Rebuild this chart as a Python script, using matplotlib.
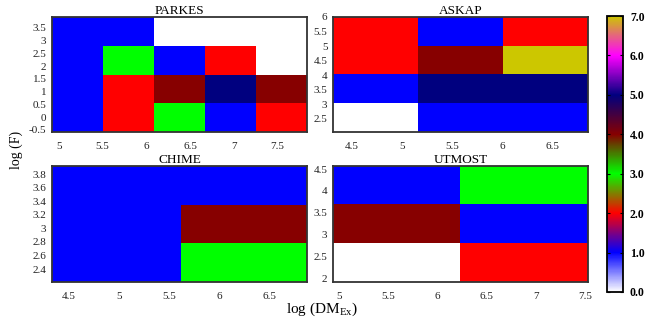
import numpy as np
import matplotlib
matplotlib.use("Agg")
import matplotlib.pyplot as plt
from matplotlib.colors import LinearSegmentedColormap

plt.rcParams['font.family'] = ['Liberation Serif', 'DejaVu Serif']

# ---- data (bin edges and cell values, rows from bottom) ----
parkes_x = [4.92, 5.50, 6.09, 6.67, 7.26, 7.84]
parkes_y = [-0.58, 0.54, 1.66, 2.79, 3.92]
parkes_v = [[1, 2, 3, 1, 2],
            [1, 2, 4, 5, 4],
            [1, 3, 1, 2, 0],
            [1, 1, 0, 0, 0]]

askap_x = [4.31, 5.16, 6.01, 6.86]
askap_y = [2.05, 3.04, 4.03, 5.02, 6.0]
askap_v = [[0, 1, 1],
           [1, 5, 5],
           [2, 4, 7],
           [2, 1, 2]]

chime_x = [4.33, 5.61, 6.87]
chime_y = [2.21, 2.78, 3.35, 3.92]
chime_v = [[1, 3],
           [1, 4],
           [1, 1]]

utmost_x = [4.94, 6.23, 7.53]
utmost_y = [1.91, 2.80, 3.69, 4.57]
utmost_v = [[0, 2],
            [4, 1],
            [1, 3]]

parkes_xt = [5, 5.5, 6, 6.5, 7, 7.5]
parkes_yt = [-0.5, 0, 0.5, 1, 1.5, 2, 2.5, 3, 3.5]
askap_xt = [4.5, 5, 5.5, 6, 6.5]
askap_yt = [2.5, 3, 3.5, 4, 4.5, 5, 5.5, 6]
chime_xt = [4.5, 5, 5.5, 6, 6.5]
chime_yt = [2.4, 2.6, 2.8, 3, 3.2, 3.4, 3.6, 3.8]
utmost_xt = [5, 5.5, 6, 6.5, 7, 7.5]
utmost_yt = [2, 2.5, 3, 3.5, 4, 4.5]

cbar_ticks = [0, 1, 2, 3, 4, 5, 6, 7]

# ---- colormap ----
nodes = [(0/7, (1, 1, 1)), (1/7, (0, 0, 1)), (2/7, (1, 0, 0)), (3/7, (0, 1, 0)),
         (4/7, (0.53, 0, 0)), (5/7, (0, 0, 0.5)), (6/7, (1, 0, 1)), (7/7, (0.8, 0.78, 0))]
cmap = LinearSegmentedColormap.from_list('gp', nodes, N=512)

W, H = 664, 323
fig = plt.figure(figsize=(W/100, H/100), dpi=100)

def ax_at(l, t, r, b):
    return fig.add_axes([l/W, 1 - b/H, (r-l)/W, (b-t)/H])

panels = [
    ("PARKES", (52, 17, 307, 132), parkes_x, parkes_y, parkes_v, parkes_xt, parkes_yt),
    ("ASKAP", (333, 17, 588, 132), askap_x, askap_y, askap_v, askap_xt, askap_yt),
    ("CHIME", (52, 166, 307, 282), chime_x, chime_y, chime_v, chime_xt, chime_yt),
    ("UTMOST", (333, 166, 588, 282), utmost_x, utmost_y, utmost_v, utmost_xt, utmost_yt),
]

mesh = None
for title, box, xe, ye, v, xt, yt in panels:
    ax = ax_at(*box)
    mesh = ax.pcolormesh(xe, ye, np.array(v), cmap=cmap, vmin=0, vmax=7)
    ax.set_xlim(xe[0], xe[-1])
    ax.set_ylim(ye[0], ye[-1])
    ax.set_xticks(xt)
    ax.set_yticks(yt)
    ax.set_xticklabels([f"{t:g}" for t in xt])
    ax.set_yticklabels([f"{t:g}" for t in yt])
    ax.tick_params(length=0, labelsize=8, colors='#222222', pad=4)
    ax.tick_params(axis='x', pad=7)
    for s in ax.spines.values():
        s.set_linewidth(1.3)
        s.set_color('#333333')
    ax.set_title(title, fontsize=9.5, pad=1)

cax = ax_at(607, 16, 623, 292)
cb = fig.colorbar(mesh, cax=cax, ticks=cbar_ticks)
cb.set_ticklabels([f"{t:.1f}" for t in cbar_ticks])
cb.outline.set_linewidth(1.3)
cax.tick_params(axis='y', direction='in', length=2.5, width=0.8, labelsize=8.5, pad=5,
                left=True, right=True)
for lab in cax.get_yticklabels():
    lab.set_fontweight('bold')

fig.text(16/W, 1 - 150/H, "log (F)", rotation=90, ha='center', va='center', fontsize=10)
fig.text(322/W, 1 - 309/H, r"log (DM$_{\mathregular{Ex}}$)", ha='center', va='center', fontsize=11)

fig.savefig("out.png", dpi=100)
